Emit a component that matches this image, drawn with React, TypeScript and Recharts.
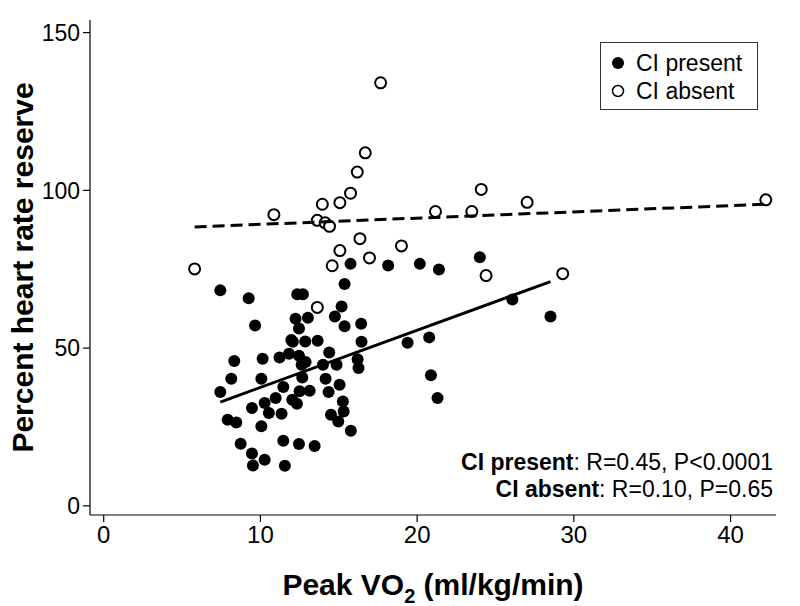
import React from 'react';
import { ScatterChart, Scatter, XAxis, YAxis } from 'recharts';

// CI present (filled circles): [peak VO2, % HR reserve]
const presentX = [
  7.44, 9.25, 9.66, 12.35, 12.71, 15.75, 18.15, 20.17, 21.39, 24.0,
  15.37, 15.18, 14.75, 15.37, 16.43, 12.24, 13.03, 12.46, 11.97, 12.07,
  12.86, 13.65, 16.45, 8.33, 10.14, 11.22, 11.82, 12.46, 12.63, 12.88,
  14.39, 13.99, 14.86, 16.2, 16.26, 8.14, 10.06, 12.67, 7.44, 11.46,
  14.16, 15.05, 14.35, 12.5, 13.14, 10.97, 10.27, 12.03, 12.33, 9.46,
  10.54, 11.35, 15.26, 15.31, 14.5, 14.97, 7.91, 8.46, 10.06, 15.77,
  8.74, 11.46, 12.46, 13.46, 9.46, 10.27, 9.52, 11.56, 26.08, 28.51,
  19.39, 20.77, 20.88, 21.3,
];
const presentY = [
  68.3, 65.8, 57.2, 67.1, 67.1, 76.7, 76.2, 76.7, 74.9, 78.8,
  70.3, 63.2, 60.0, 56.9, 57.7, 59.3, 59.6, 56.2, 52.6, 52.0,
  52.1, 52.3, 52.0, 45.9, 46.6, 47.0, 48.2, 47.6, 44.7, 45.6,
  48.6, 44.7, 44.7, 46.5, 43.7, 40.3, 40.3, 40.7, 36.1, 37.7,
  40.3, 38.4, 36.1, 36.3, 36.5, 34.2, 32.6, 33.6, 32.4, 31.0,
  29.4, 29.2, 33.1, 29.9, 28.9, 26.7, 27.3, 26.4, 25.2, 23.8,
  19.7, 20.6, 19.6, 19.0, 16.6, 14.6, 12.8, 12.7, 65.4, 60.0,
  51.7, 53.4, 41.4, 34.2,
];

// CI absent (open circles)
const absentX = [
  5.8, 10.86, 13.63, 13.95, 14.13, 14.41, 15.07, 15.75, 16.18, 16.69,
  17.67, 21.17, 23.49, 24.09, 27.02, 42.25, 16.35, 15.07, 19.0, 16.96,
  14.58, 24.4, 29.29, 13.63,
];
const absentY = [
  75.1, 92.3, 90.5, 95.6, 89.7, 88.6, 96.1, 99.1, 105.8, 111.9,
  134.1, 93.3, 93.3, 100.3, 96.2, 97.0, 84.7, 80.9, 82.4, 78.6,
  76.1, 73.0, 73.6, 62.9,
];

// fitted lines (end points)
const fitPresentX = [7.44, 28.51];
const fitPresentY = [32.9, 71.1];
const fitAbsentX = [5.8, 42.25];
const fitAbsentY = [88.4, 95.6];

const xTicks = [0, 10, 20, 30, 40];
const yTicks = [0, 50, 100, 150];

const zip = (xs: number[], ys: number[]) => xs.map((x, i) => ({ x, y: ys[i] }));

const presentData = zip(presentX, presentY);
const absentData = zip(absentX, absentY);
const fitPresent = zip(fitPresentX, fitPresentY);
const fitAbsent = zip(fitAbsentX, fitAbsentY);

const FONT = '"Liberation Sans", Arial, Helvetica, sans-serif';

const FilledDot = (props: any) => <circle cx={props.cx} cy={props.cy} r={6} fill="#000" />;
const OpenDot = (props: any) => (
  <circle cx={props.cx} cy={props.cy} r={5.5} fill="#fff" stroke="#000" strokeWidth={2} />
);
const NoDot = () => null;

// x title with a real subscript
const XTitle = (props: any) => {
  const vb = props.viewBox || {};
  const cx = vb.x + vb.width / 2;
  return (
    <text x={cx} y={595} textAnchor="middle" fontSize={30} fontWeight="bold" fill="#000" fontFamily={FONT}>
      Peak VO
      <tspan fontSize={20} dy={8}>2</tspan>
      <tspan dy={-8}> (ml/kg/min)</tspan>
    </text>
  );
};

export default function App() {
  return (
    <div style={{ position: 'absolute', left: 0, top: 0, width: 800, height: 606, background: '#fff', fontFamily: FONT }}>
      <ScatterChart width={800} height={606} margin={{ top: 20, right: 24, bottom: 0, left: 0 }}>
        <XAxis
          type="number"
          dataKey="x"
          domain={[-0.875, 42.9]}
          ticks={xTicks}
          allowDataOverflow
          height={91}
          tickSize={7}
          tickMargin={4}
          axisLine={{ stroke: '#000', strokeWidth: 1.2 }}
          tickLine={{ stroke: '#000', strokeWidth: 1.2 }}
          tick={{ fontSize: 24, fill: '#000', fontFamily: FONT }}
          label={<XTitle />}
        />
        <YAxis
          type="number"
          dataKey="y"
          domain={[-2.9, 154]}
          ticks={yTicks}
          allowDataOverflow
          width={90}
          tickSize={7}
          tickMargin={3}
          axisLine={{ stroke: '#000', strokeWidth: 1.2 }}
          tickLine={{ stroke: '#000', strokeWidth: 1.2 }}
          tick={{ fontSize: 23, fill: '#000', fontFamily: FONT }}
          label={{
            value: 'Percent heart rate reserve',
            angle: -90,
            position: 'insideLeft',
            offset: 22,
            style: { fontSize: 30, fontWeight: 'bold', fill: '#000', fontFamily: FONT, textAnchor: 'middle' },
          }}
        />
        <Scatter name="CI present" data={presentData} shape={<FilledDot />} isAnimationActive={false} />
        <Scatter name="CI absent" data={absentData} shape={<OpenDot />} isAnimationActive={false} />
        <Scatter
          data={fitPresent}
          shape={<NoDot />}
          line={{ stroke: '#000', strokeWidth: 3 }}
          legendType="none"
          isAnimationActive={false}
        />
        <Scatter
          data={fitAbsent}
          shape={<NoDot />}
          line={{ stroke: '#000', strokeWidth: 3, strokeDasharray: '12 6' }}
          legendType="none"
          isAnimationActive={false}
        />
      </ScatterChart>

      {/* legend box */}
      <div
        style={{
          position: 'absolute',
          left: 600,
          top: 42,
          border: '1px solid #333',
          width: 158,
          height: 68,
          boxSizing: 'border-box',
          padding: '6px 0 0 10px',
          fontSize: 23,
          lineHeight: '28px',
          color: '#000',
          background: '#fff',
        }}
      >
        <div style={{ display: 'flex', alignItems: 'center' }}>
          <svg width={14} height={14} style={{ marginRight: 11 }}>
            <circle cx={7} cy={7} r={6} fill="#000" />
          </svg>
          CI present
        </div>
        <div style={{ display: 'flex', alignItems: 'center' }}>
          <svg width={14} height={14} style={{ marginRight: 11 }}>
            <circle cx={7} cy={7} r={5.5} fill="#fff" stroke="#000" strokeWidth={1.5} />
          </svg>
          CI absent
        </div>
      </div>

      <div
        style={{
          position: 'absolute',
          right: 27,
          top: 449,
          textAlign: 'right',
          fontSize: 23,
          lineHeight: '27px',
          color: '#000',
        }}
      >
        <div><b>CI present</b>: R=0.45, P&lt;0.0001</div>
        <div><b>CI absent</b>: R=0.10, P=0.65</div>
      </div>
    </div>
  );
}
